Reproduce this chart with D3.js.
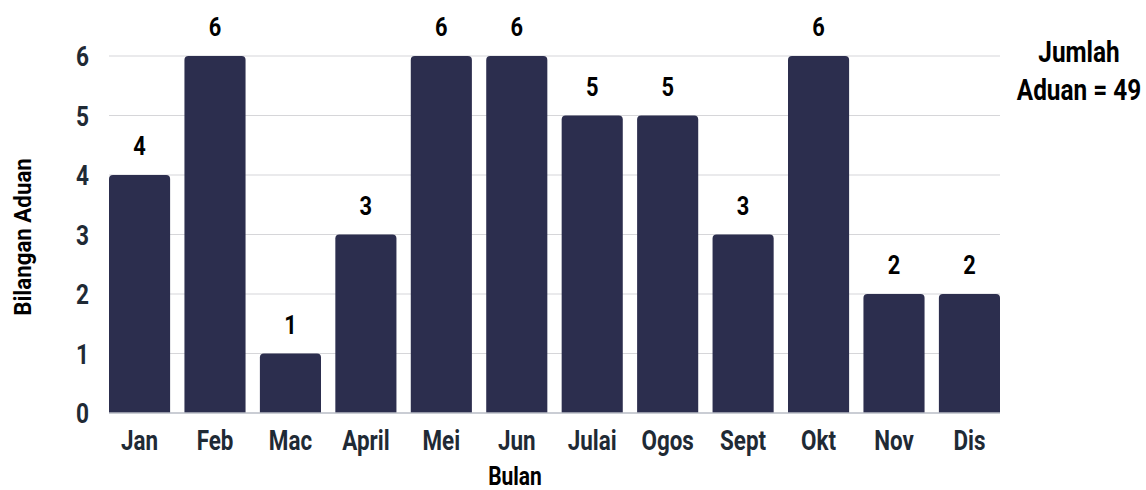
<!DOCTYPE html>
<html>
<head>
<meta charset="utf-8">
<script src="https://cdn.jsdelivr.net/npm/d3@7"></script>
<style>
  html, body { margin: 0; padding: 0; background: #fff; }
  svg { display: block; font-family: Roboto, "Noto Sans", sans-serif; font-weight: 700; }
</style>
</head>
<body>
<svg id="chart" width="1146" height="490"></svg>
<script>
const months = ["Jan", "Feb", "Mac", "April", "Mei", "Jun", "Julai", "Ogos", "Sept", "Okt", "Nov", "Dis"];
const counts = [4, 6, 1, 3, 6, 6, 5, 5, 3, 6, 2, 2];
const yTicks = [0, 1, 2, 3, 4, 5, 6];
const yTitle = "Bilangan Aduan";
const xTitle = "Bulan";
const noteLines = ["Jumlah", "Aduan = 49"];

(function () {
const svg = d3.select("#chart");
const pL = 109, pR = 1000, pT = 56, pB = 413;

const x = d3.scaleBand().domain(months).range([pL, pR]).paddingInner(0.19).paddingOuter(0);
const y = d3.scaleLinear().domain([0, 6]).range([pB, pT]);

// gridlines
svg.append("g").selectAll("line").data(yTicks.filter(d => d > 0)).join("line")
  .attr("x1", pL).attr("x2", pR)
  .attr("y1", d => y(d)).attr("y2", d => y(d))
  .attr("stroke", "#d6d6d9").attr("stroke-width", 1.2);

// bars with rounded top corners
const r = 4;
svg.append("g").selectAll("path").data(counts).join("path")
  .attr("fill", "#2c2e4e")
  .attr("d", (d, i) => {
    const x0 = x(months[i]), w = x.bandwidth(), yt = y(d), yb = y(0);
    return `M${x0},${yb}V${yt + r}Q${x0},${yt} ${x0 + r},${yt}H${x0 + w - r}Q${x0 + w},${yt} ${x0 + w},${yt + r}V${yb}Z`;
  });

// baseline
svg.append("line").attr("x1", pL).attr("x2", pR)
  .attr("y1", y(0)).attr("y2", y(0))
  .attr("stroke", "#b9bcc6").attr("stroke-width", 1.5);

function condensedText(g, tx, ty, txt, size, fill, anchor, sx) {
  return g.append("text")
    .attr("transform", `translate(${tx},${ty}) scale(${sx || 0.84},1)`)
    .attr("text-anchor", anchor || "middle")
    .attr("font-size", size)
    .attr("fill", fill)
    .text(txt);
}

// value labels
const vl = svg.append("g");
counts.forEach((d, i) => {
  condensedText(vl, x(months[i]) + x.bandwidth() / 2, y(d) - 20, d, 26, "#000", "middle", 0.84);
});

// y axis tick labels
const yl = svg.append("g");
yTicks.forEach(t => {
  condensedText(yl, 89, y(t) + 10, t, 27, "#1f2a35", "end");
});

// x axis tick labels
const xl = svg.append("g");
months.forEach(m => {
  condensedText(xl, x(m) + x.bandwidth() / 2, 450, m, 28, "#1f2a35", "middle", 0.8);
});

// axis titles
condensedText(svg, 515, 485, xTitle, 25, "#000", "middle", 0.84);
svg.append("text")
  .attr("transform", `translate(31,237) rotate(-90) scale(0.93,1)`)
  .attr("text-anchor", "middle")
  .attr("font-size", 24)
  .attr("fill", "#000")
  .text(yTitle);

// note
noteLines.forEach((l, i) => {
  condensedText(svg, 1079, 62 + i * 38, l, 29, "#000", "middle", 0.84);
});
})();
</script>
</body>
</html>
